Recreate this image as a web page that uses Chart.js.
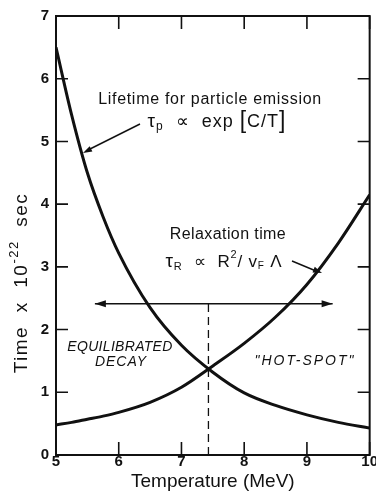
<!DOCTYPE html>
<html>
<head>
<meta charset="utf-8">
<script src="https://cdn.jsdelivr.net/npm/chart.js@4.4.1/dist/chart.umd.min.js"></script>
<style>
html,body{margin:0;padding:0;background:#fff;}
#wrap{width:376px;height:494px;position:relative;}
</style>
</head>
<body>
<div id="wrap"><canvas id="chart" width="376" height="494"></canvas></div>
<script>

// temperature grid (MeV) and the two time scales (x 10^-22 sec)
const temps = [5, 5.25, 5.5, 5.75, 6, 6.5, 7, 7.5, 8, 8.5, 9, 9.5, 10];
const lifetime = [6.5, 5.42, 4.5, 3.8, 3.22, 2.35, 1.75, 1.32, 0.99, 0.79, 0.64, 0.52, 0.43];
const relaxation = [0.48, 0.52, 0.57, 0.62, 0.68, 0.84, 1.08, 1.42, 1.78, 2.2, 2.72, 3.38, 4.15];

const xTicks = [5, 6, 7, 8, 9, 10];
const yTicks = [0, 1, 2, 3, 4, 5, 6, 7];

// crossover temperature and the level of the double arrow
const crossT = 7.43;
const arrowLevel = 2.41;
const arrowSpan = [5.62, 9.41];

const ink = "#111";
const fam = "'Liberation Sans', Arial, sans-serif";

function pts(xs, ys){
return xs.map((x,i)=>({x:x,y:ys[i]}));
}

function arrowHead(ctx,x1,y1,x2,y2,len,wid){
const a=Math.atan2(y2-y1,x2-x1);
ctx.beginPath();
ctx.moveTo(x2,y2);
ctx.lineTo(x2-len*Math.cos(a)+wid*Math.sin(a), y2-len*Math.sin(a)-wid*Math.cos(a));
ctx.lineTo(x2-len*Math.cos(a)-wid*Math.sin(a), y2-len*Math.sin(a)+wid*Math.cos(a));
ctx.closePath();
ctx.fill();
}

// draw a run of text pieces with sub/superscripts, centred on x
function richText(ctx,parts,cx,y,spacing){
ctx.letterSpacing=(spacing||0)+"px";
let total=0;
parts.forEach(p=>{
ctx.font=(p.style||"")+" "+p.size+"px "+fam;
p.w=ctx.measureText(p.t).width;
total+=p.w;
});
let x=cx-total/2;
parts.forEach(p=>{
ctx.font=(p.style||"")+" "+p.size+"px "+fam;
ctx.fillText(p.t,x,y+(p.dy||0));
x+=p.w;
});
ctx.letterSpacing="0px";
}

const decor = {
id:"decor",
afterDraw(chart){
const ctx=chart.ctx;
const a=chart.chartArea;
const sx=chart.scales.x, sy=chart.scales.y;
const px=v=>sx.getPixelForValue(v);
const py=v=>sy.getPixelForValue(v);

ctx.save();
ctx.strokeStyle=ink;
ctx.fillStyle=ink;

// frame
ctx.lineWidth=2;
ctx.strokeRect(a.left,a.top,a.right-a.left,a.bottom-a.top);

// inward ticks on all four sides
ctx.lineWidth=1.6;
ctx.beginPath();
xTicks.forEach(t=>{
const x=px(t);
ctx.moveTo(x,a.bottom);ctx.lineTo(x,a.bottom-13);
ctx.moveTo(x,a.top);ctx.lineTo(x,a.top+13);
});
yTicks.forEach(t=>{
const y=py(t);
ctx.moveTo(a.left,y);ctx.lineTo(a.left+12,y);
ctx.moveTo(a.right,y);ctx.lineTo(a.right-12,y);
});
ctx.stroke();

// heads of the double arrow
arrowHead(ctx,px(7),py(arrowLevel),px(arrowSpan[0]),py(arrowLevel),11,3.5);
arrowHead(ctx,px(8),py(arrowLevel),px(arrowSpan[1]),py(arrowLevel),11,3.5);

// pointers to the curves
ctx.lineWidth=1.4;
ctx.beginPath();
ctx.moveTo(140,124);ctx.lineTo(88,150);
ctx.moveTo(292,261);ctx.lineTo(316,271);
ctx.stroke();
arrowHead(ctx,140,124,83,153,9,3);
arrowHead(ctx,292,261,322,273,9,3);

ctx.textBaseline="middle";
ctx.textAlign="left";

richText(ctx,[{t:"Lifetime for particle emission",size:16}],210,100,0.7);
richText(ctx,[
{t:"\u03c4",size:19},
{t:"p",size:12,dy:5},
{t:"  \u221d  exp ",size:18},
{t:"[",size:23},
{t:"C/T",size:18},
{t:"]",size:23}
],217,122,1);

richText(ctx,[{t:"Relaxation time",size:16}],228,235,0.4);
richText(ctx,[
{t:"\u03c4",size:19},
{t:"R",size:11,dy:5},
{t:"  \u221d  R",size:17},
{t:"2",size:11,dy:-7},
{t:"/ v",size:17},
{t:"F",size:10,dy:4},
{t:" \u039b",size:17}
],224,262,0.8);

richText(ctx,[{t:"EQUILIBRATED",size:14,style:"italic"}],120,347,0.3);
richText(ctx,[{t:"DECAY",size:14,style:"italic"}],121,362,1);
richText(ctx,[{t:"\"HOT-SPOT\"",size:14,style:"italic"}],305,361,2);

// vertical axis title with exponent
ctx.translate(22,283);
ctx.rotate(-Math.PI/2);
richText(ctx,[
{t:"Time  x  10",size:19},
{t:"-22",size:13,dy:-8},
{t:"  sec",size:19}
],0,0,1.5);

ctx.restore();
}
};

const tickFont={family:fam,size:15,weight:"bold"};

new Chart(document.getElementById("chart"),{
type:"line",
data:{
datasets:[
{
label:"Lifetime for particle emission",
data:pts(temps,lifetime),
borderColor:ink,
borderWidth:3,
pointRadius:0,
cubicInterpolationMode:"monotone"
},
{
label:"Relaxation time",
data:pts(temps,relaxation),
borderColor:ink,
borderWidth:3,
pointRadius:0,
cubicInterpolationMode:"monotone"
},
{
label:"range",
data:pts(arrowSpan,[arrowLevel,arrowLevel]),
borderColor:ink,
borderWidth:1.5,
pointRadius:0
},
{
label:"crossover",
data:pts([crossT,crossT],[0,arrowLevel]),
borderColor:ink,
borderWidth:1.3,
borderDash:[8,5],
pointRadius:0
}
]
},
options:{
responsive:false,
animation:false,
events:[],
layout:{padding:{top:16,right:6,left:0,bottom:0}},
plugins:{legend:{display:false},tooltip:{enabled:false}},
scales:{
x:{
type:"linear",
min:5,max:10,
afterFit(scale){scale.height=39;},
afterBuildTicks(scale){scale.ticks=xTicks.map(v=>({value:v}));},
grid:{display:false,drawTicks:false},
border:{display:false},
ticks:{color:ink,font:tickFont,padding:-2,maxRotation:0,autoSkip:false},
title:{display:true,text:"Temperature (MeV)",color:ink,
font:{family:fam,size:19},padding:{top:0,bottom:1}}
},
y:{
min:0,max:7,
afterFit(scale){scale.width=56;},
afterBuildTicks(scale){scale.ticks=yTicks.map(v=>({value:v}));},
grid:{display:false,drawTicks:false},
border:{display:false},
ticks:{color:ink,font:tickFont,padding:7}
}
}
},
plugins:[decor]
});

</script>
</body>
</html>
